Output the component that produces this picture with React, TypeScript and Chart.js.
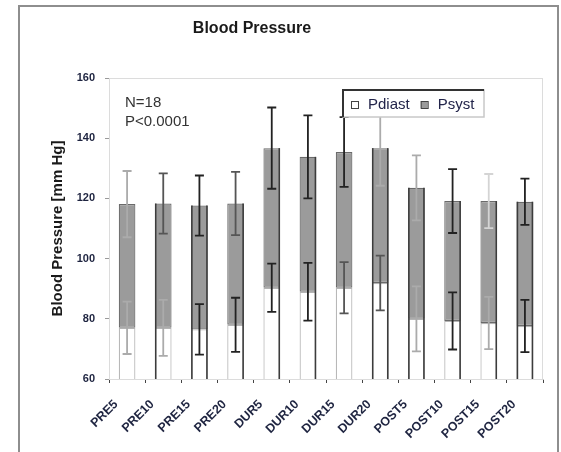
import React, { useEffect, useRef } from "react";
import { Chart, registerables } from "chart.js";

Chart.register(...registerables);

// ---- data -------------------------------------------------------------
const CATEGORIES = ["PRE5", "PRE10", "PRE15", "PRE20", "DUR5", "DUR10", "DUR15", "DUR20", "POST5", "POST10", "POST15", "POST20"];
const P_DIAST = [77, 77, 76.5, 78, 90.3, 89, 90.3, 91.9, 80, 79.3, 78.6, 77.6];
const P_SYST = [118.1, 118.3, 117.6, 118.3, 136.7, 133.8, 135.4, 136.7, 123.5, 119.1, 119.1, 118.9];
const P_DIAST_SD = [8.7, 9.3, 8.4, 9, 8, 9.6, 8.5, 9.1, 10.8, 9.5, 8.7, 8.7];
const P_SYST_SD = [11, 10, 10, 10.5, 13.5, 13.8, 11.6, 12.5, 10.8, 10.6, 9, 7.7];
const Y_MIN = 60;
const Y_MAX = 160;
const Y_STEP = 20;
const TITLE = "Blood Pressure";
const Y_TITLE = "Blood Pressure [mm Hg]";
const NOTES = ["N=18", "P<0.0001"];
const SERIES = ["Pdiast", "Psyst"];

// ---- styling ------------------------------------------------------------
const FONT = "'Liberation Sans', Arial, Helvetica, sans-serif";
const SYST_FILL = "#9b9b9b";
const TONES: Record<string, string> = { faint: "#d4d4d4", light: "#ababab", mid: "#555555", dark: "#222222" };
const SYST_ERR_TONE = ["light", "mid", "dark", "mid", "dark", "dark", "dark", "light", "light", "dark", "faint", "dark"];
const DIAST_ERR_TONE = ["light", "light", "dark", "dark", "dark", "dark", "mid", "mid", "light", "dark", "light", "dark"];
const EDGE_ACCENT = ["", "L", "LR", "R", "R", "R", "", "LR", "LR", "R", "R", "LR"];

const decorPlugin = {
  id: "bpDecor",
  beforeDatasetsDraw(chart: any) {
    const { ctx, chartArea: a } = chart;
    ctx.save();
    ctx.strokeStyle = "#dcdcdc";
    ctx.lineWidth = 1;
    ctx.strokeRect(a.left + 0.5, a.top + 0.5, a.right - a.left - 1, a.bottom - a.top);
    ctx.restore();
  },
  afterDatasetsDraw(chart: any) {
    const { ctx, chartArea: a } = chart;
    const y = chart.scales.y;
    const meta = chart.getDatasetMeta(1);

    // darker vertical edges along some bars
    ctx.save();
    ctx.beginPath();
    ctx.rect(a.left, a.top, a.right - a.left, a.bottom - a.top);
    ctx.clip();
    ctx.strokeStyle = "#3c3c3c";
    ctx.lineWidth = 1.6;
    CATEGORIES.forEach((_, i) => {
      const el = meta.data[i];
      const { x, width } = el.getProps(["x", "width"], true);
      const top = y.getPixelForValue(P_SYST[i]);
      const acc = EDGE_ACCENT[i];
      const edges: number[] = [];
      if (acc.includes("L")) edges.push(x - width / 2 + 0.8);
      if (acc.includes("R")) edges.push(x + width / 2 - 0.8);
      edges.forEach((ex) => {
        ctx.beginPath();
        ctx.moveTo(ex, top);
        ctx.lineTo(ex, a.bottom);
        ctx.stroke();
      });
    });
    ctx.restore();

    // error bars (mean ± SD)
    const cap = 4.5;
    const drawErr = (cx: number, mean: number, sd: number, color: string) => {
      const hi = y.getPixelForValue(mean + sd);
      const lo = y.getPixelForValue(mean - sd);
      ctx.strokeStyle = color;
      ctx.lineWidth = 1.8;
      ctx.beginPath();
      ctx.moveTo(cx, hi);
      ctx.lineTo(cx, lo);
      ctx.moveTo(cx - cap, hi);
      ctx.lineTo(cx + cap, hi);
      ctx.moveTo(cx - cap, lo);
      ctx.lineTo(cx + cap, lo);
      ctx.stroke();
    };
    ctx.save();
    CATEGORIES.forEach((_, i) => {
      const { x } = meta.data[i].getProps(["x"], true);
      drawErr(x, P_DIAST[i], P_DIAST_SD[i], TONES[DIAST_ERR_TONE[i]]);
      drawErr(x, P_SYST[i], P_SYST_SD[i], TONES[SYST_ERR_TONE[i]]);
    });
    ctx.restore();
  },
  afterDraw(chart: any) {
    const { ctx, chartArea: a } = chart;
    ctx.save();

    // chart title
    ctx.fillStyle = "#1a1a1a";
    ctx.font = `bold 16px ${FONT}`;
    ctx.textAlign = "center";
    ctx.textBaseline = "middle";
    ctx.fillText(TITLE, 252, 29);

    // sample size / significance note
    ctx.font = `15px ${FONT}`;
    ctx.textAlign = "left";
    ctx.textBaseline = "alphabetic";
    ctx.fillStyle = "#333333";
    ctx.fillText(NOTES[0], a.left + 16, a.top + 29);
    ctx.fillText(NOTES[1], a.left + 16, a.top + 48);

    // legend box
    const bx = a.left + 234;
    const by = a.top + 12;
    const bw = 141;
    const bh = 27;
    ctx.fillStyle = "#ffffff";
    ctx.fillRect(bx, by, bw, bh);
    ctx.strokeStyle = "#c8c8c8";
    ctx.lineWidth = 1.5;
    ctx.strokeRect(bx, by, bw, bh);
    ctx.strokeStyle = "#333333";
    ctx.lineWidth = 2;
    ctx.beginPath();
    ctx.moveTo(bx, by + bh);
    ctx.lineTo(bx, by);
    ctx.lineTo(bx + bw, by);
    ctx.stroke();

    ctx.font = `15px ${FONT}`;
    ctx.textBaseline = "middle";
    const fills = ["#ffffff", SYST_FILL];
    let cx = bx + 8;
    const cy = by + 15;
    SERIES.forEach((label, i) => {
      ctx.fillStyle = fills[i];
      ctx.fillRect(cx, cy - 4, 7, 7);
      ctx.strokeStyle = "#444444";
      ctx.lineWidth = 1;
      ctx.strokeRect(cx + 0.5, cy - 3.5, 7, 7);
      ctx.fillStyle = "#22244a";
      ctx.fillText(label, cx + 17, cy);
      cx += 17 + ctx.measureText(label).width + 11;
    });
    ctx.restore();
  },
};

export default function App() {
  const ref = useRef<HTMLCanvasElement>(null);

  useEffect(() => {
    if (!ref.current) return;
    const chart = new Chart(ref.current, {
      type: "bar",
      data: {
        labels: CATEGORIES,
        datasets: [
          {
            label: SERIES[0],
            data: P_DIAST,
            backgroundColor: "#ffffff",
            borderColor: "#b4b4b4",
            borderWidth: 1.2,
            borderSkipped: false,
          },
          {
            label: SERIES[1],
            data: P_SYST.map((v, i) => v - P_DIAST[i]),
            backgroundColor: SYST_FILL,
            borderColor: "#6a6a6a",
            borderWidth: 1.2,
            borderSkipped: false,
          },
        ],
      },
      options: {
        responsive: false,
        devicePixelRatio: 1,
        animation: false,
        events: [],
        layout: { padding: { left: 40, right: 18, top: 78, bottom: 0 } },
        datasets: { bar: { barPercentage: 0.46, categoryPercentage: 1 } },
        plugins: {
          legend: { display: false },
          title: { display: false },
          tooltip: { enabled: false },
        },
        scales: {
          x: {
            stacked: true,
            grid: { drawOnChartArea: false, drawTicks: true, tickLength: 4, color: "#444444", offset: true },
            border: { display: true, color: "#c8c8c8" },
            ticks: {
              maxRotation: 45,
              minRotation: 45,
              autoSkip: false,
              padding: 14,
              labelOffset: -11,
              color: "#1e2440",
              font: { family: FONT, size: 12.5, weight: "bold" },
            },
            afterFit: (s: any) => {
              s.height = 73;
            },
          },
          y: {
            stacked: true,
            min: Y_MIN,
            max: Y_MAX,
            grid: { drawOnChartArea: false, drawTicks: true, tickLength: 4, color: "#9a9a9a" },
            border: { display: true, color: "#c8c8c8" },
            ticks: {
              stepSize: Y_STEP,
              padding: 10,
              color: "#1e2440",
              font: { family: FONT, size: 11, weight: "bold" },
            },
            title: {
              display: true,
              text: Y_TITLE,
              color: "#1a1a1a",
              font: { family: FONT, size: 15, weight: "bold" },
              padding: { top: 9, bottom: 0 },
            },
            afterFit: (s: any) => {
              s.width = 69;
            },
          },
        },
      },
      plugins: [decorPlugin],
    } as any);
    return () => chart.destroy();
  }, []);

  return (
    <div style={{ position: "fixed", left: 0, top: 0, width: 561, height: 452, background: "#ffffff", overflow: "hidden" }}>
      <div
        style={{
          position: "absolute",
          left: 18,
          top: 5,
          width: 541,
          height: 480,
          border: "2px solid #8e8e8e",
          boxSizing: "border-box",
        }}
      />
      <canvas ref={ref} width={561} height={452} style={{ position: "absolute", left: 0, top: 0, width: 561, height: 452 }} />
    </div>
  );
}
